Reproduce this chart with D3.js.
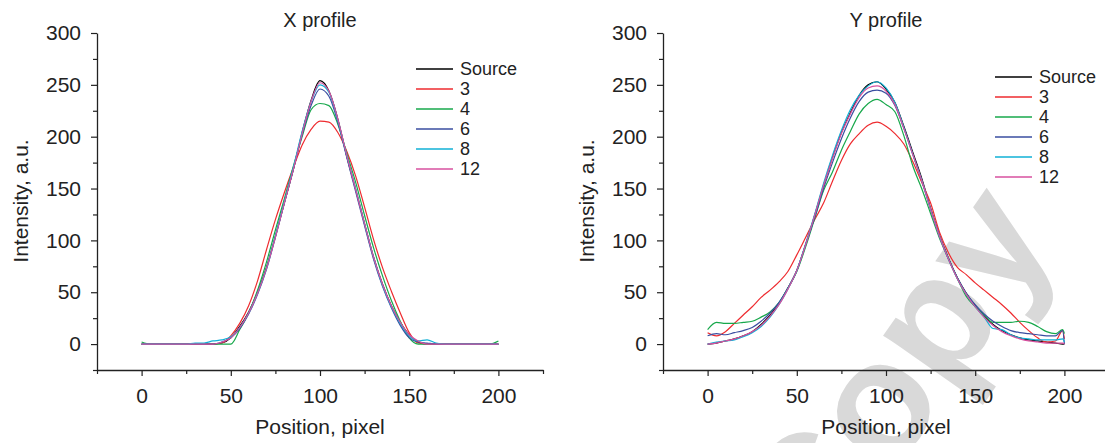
<!DOCTYPE html>
<html>
<head>
<meta charset="utf-8">
<script src="https://cdn.jsdelivr.net/npm/d3@7"></script>
<style>
  body { margin: 0; background: #fff; }
  svg { display: block; font-family: "Liberation Sans", Arial, sans-serif; }
</style>
</head>
<body>
<svg id="chart" width="1105" height="443"></svg>
<script>
// series / legend
const seriesNames = ['Source', '3', '4', '6', '8', '12']
const seriesColors = ['#000000', '#ee2b2f', '#17a84b', '#3a4ea0', '#10b0d6', '#d7509f']

// axis ticks
const xMajorTicks = [0, 50, 100, 150, 200]
const xMinorTicks = [-25, 25, 75, 125, 175, 225]
const yMajorTicks = [0, 50, 100, 150, 200, 250, 300]
const yMinorTicks = [-25, 25, 75, 125, 175, 225, 275]

// X profile
const xProfilePos = [0, 5, 10, 15, 20, 25, 30, 35, 40, 45, 50, 55, 60, 65, 70, 75, 80, 85, 90, 95, 100,
  105, 110, 115, 120, 125, 130, 135, 140, 145, 150, 155, 160, 165, 170, 175, 180, 185, 190, 195, 200]
const xSource = [0, 0, 0, 0, 0, 0, 0, 0, 0, 1, 6, 17, 31, 50, 74, 104, 136, 168, 204, 235, 254,
  244, 217, 181, 149, 116, 84, 58, 37, 21, 9, 2, 0, 0, 0, 0, 0, 0, 0, 0, 0]
const x3 = [0, 0, 0, 0, 0, 0, 0, 0, 0, 1, 8, 20, 37, 61, 91, 120, 146, 170, 192, 207, 215,
  214, 204, 186, 162, 132, 101, 74, 51, 30, 11, 1, 0, 0, 0, 0, 0, 0, 0, 0, 0]
const x4 = [2, 0, 0, 0, 0, 0, 0, 0, 0, 0, 0, 14, 30, 52, 79, 110, 140, 171, 200, 226, 232,
  230, 212, 184, 156, 124, 93, 66, 42, 22, 6, 0, 0, 0, 0, 0, 0, 0, 0, 0, 3]
const x6 = [0, 0, 0, 0, 0, 0, 0, 0, 0, 2, 6, 15, 29, 48, 72, 103, 136, 168, 202, 230, 246,
  239, 214, 180, 147, 114, 82, 56, 35, 18, 6, 2, 1, 0, 0, 0, 0, 0, 0, 0, 0]
const x8 = [0, 0, 0, 0, 0, 0, 1, 1, 3, 4, 7, 16, 30, 49, 73, 104, 137, 170, 205, 234, 250,
  243, 216, 182, 150, 116, 84, 57, 36, 20, 8, 3, 4, 1, 0, 0, 0, 0, 0, 0, 0]
const x12 = [0, 0, 0, 0, 0, 0, 0, 0, 0, 2, 6, 16, 30, 49, 73, 103, 136, 168, 203, 234, 252,
  244, 217, 182, 149, 116, 84, 58, 37, 21, 9, 3, 0, 0, 0, 0, 0, 0, 0, 0, 0]

// Y profile
const yProfilePos = [0, 5, 10, 15, 20, 25, 30, 35, 40, 45, 50, 55, 60, 65, 70, 75, 80, 85, 90, 95, 100,
  105, 110, 115, 120, 125, 130, 135, 140, 145, 150, 155, 160, 165, 170, 175, 180, 185, 190, 195, 199, 200]
const ySource = [0, 1, 3, 5, 8, 12, 19, 28, 39, 54, 71, 96, 124, 153, 180, 204, 223, 240, 250, 253, 246,
  233, 210, 185, 160, 131, 105, 83, 64, 49, 37, 27, 19, 13, 9, 6, 4, 3, 2, 1, 0, 0]
const y3 = [11, 8, 12, 20, 28, 36, 45, 52, 60, 70, 86, 103, 120, 136, 157, 177, 193, 203, 211, 214, 210,
  203, 193, 176, 156, 136, 108, 88, 74, 67, 59, 52, 45, 38, 30, 21, 13, 6, 2, 3, 13, 5]
const y4 = [14, 21, 20, 20, 21, 22, 26, 31, 40, 54, 70, 94, 121, 148, 166, 187, 205, 222, 232, 236, 231,
  224, 201, 172, 150, 126, 102, 82, 63, 46, 36, 28, 21, 21, 21, 22, 21, 17, 12, 10, 14, 10]
const y6 = [8, 10, 9, 11, 13, 16, 22, 30, 40, 54, 71, 96, 122, 150, 175, 198, 218, 234, 243, 245, 242,
  230, 208, 183, 158, 130, 104, 82, 64, 49, 38, 29, 22, 17, 13, 11, 10, 9, 8, 8, 13, 0]
const y8 = [0, 2, 3, 4, 7, 11, 17, 26, 38, 53, 71, 97, 125, 155, 182, 206, 226, 240, 249, 253, 247,
  233, 209, 183, 158, 130, 104, 82, 63, 48, 36, 26, 15, 14, 9, 6, 5, 4, 4, 4, 5, 2]
const y12 = [0, 1, 3, 5, 8, 12, 18, 27, 38, 53, 71, 96, 124, 153, 179, 203, 222, 238, 247, 249, 244,
  231, 208, 183, 158, 130, 104, 82, 63, 48, 36, 26, 18, 12, 8, 5, 3, 2, 1, 1, 1, 0]

const svg = d3.select('#chart')

// watermark behind everything
svg.append('text')
  .attr('transform', 'translate(822,575) rotate(-55)')
  .attr('font-size', 165)
  .attr('font-weight', 'bold')
  .attr('fill', '#d9d9d9')
  .text('Copy')

function drawPanel (opts) {
  const x = d3.scaleLinear().domain([-25, 225]).range([opts.left, opts.left + 446])
  const y = d3.scaleLinear().domain([-25, 300]).range([370, 33])
  const g = svg.append('g')

  // x axis
  g.append('g')
    .attr('transform', `translate(0,${y(-25)})`)
    .call(d3.axisBottom(x).tickValues(xMajorTicks).tickSize(6).tickSizeOuter(0).tickPadding(12))
    .call(a => a.select('.domain').attr('stroke', '#222').attr('stroke-width', 1.3))
  g.append('g')
    .attr('transform', `translate(0,${y(-25)})`)
    .call(d3.axisBottom(x).tickValues(xMinorTicks).tickSize(4).tickFormat(''))
    .call(a => a.select('.domain').remove())

  // y axis
  g.append('g')
    .attr('transform', `translate(${x(-25)},0)`)
    .call(d3.axisLeft(y).tickValues(yMajorTicks).tickSize(6).tickSizeOuter(0).tickPadding(10))
    .call(a => a.select('.domain').attr('stroke', '#222').attr('stroke-width', 1.3))
  g.append('g')
    .attr('transform', `translate(${x(-25)},0)`)
    .call(d3.axisLeft(y).tickValues(yMinorTicks).tickSize(4).tickFormat(''))
    .call(a => a.select('.domain').remove())

  g.selectAll('.tick line').attr('stroke', '#222').attr('stroke-width', 1.2)
  g.selectAll('.tick text').attr('font-size', 21).attr('fill', '#222')
    .attr('font-family', '"Liberation Sans", Arial, sans-serif')

  // titles
  g.append('text')
    .attr('x', opts.left + 223).attr('y', opts.titleY)
    .attr('text-anchor', 'middle').attr('font-size', 20).attr('fill', '#222')
    .text(opts.title)
  g.append('text')
    .attr('x', opts.left + 223).attr('y', 434)
    .attr('text-anchor', 'middle').attr('font-size', 21).attr('fill', '#222')
    .text('Position, pixel')
  g.append('text')
    .attr('transform', `translate(${opts.left - 69},201) rotate(-90)`)
    .attr('text-anchor', 'middle').attr('font-size', 21).attr('fill', '#222')
    .text('Intensity, a.u.')

  // lines
  const line = d3.line()
    .x((d, i) => x(opts.pos[i]))
    .y(d => y(d))
    .curve(d3.curveMonotoneX)
  opts.series.forEach((s, i) => {
    g.append('path')
      .datum(s)
      .attr('fill', 'none')
      .attr('stroke', seriesColors[i])
      .attr('stroke-width', 1.2)
      .attr('d', line)
  })

  // legend
  const lg = g.append('g').attr('transform', `translate(${opts.legendX},${opts.legendY})`)
  seriesNames.forEach((name, i) => {
    lg.append('line')
      .attr('x1', 0).attr('x2', 37)
      .attr('y1', i * 20).attr('y2', i * 20)
      .attr('stroke', seriesColors[i]).attr('stroke-width', 1.3)
    lg.append('text')
      .attr('x', 44).attr('y', i * 20)
      .attr('dy', '0.35em')
      .attr('font-size', 18).attr('fill', '#222')
      .text(name)
  })
}

drawPanel({
  left: 97, title: 'X profile', titleY: 27,
  pos: xProfilePos, series: [xSource, x3, x4, x6, x8, x12],
  legendX: 416, legendY: 69
})
drawPanel({
  left: 663, title: 'Y profile', titleY: 27,
  pos: yProfilePos, series: [ySource, y3, y4, y6, y8, y12],
  legendX: 995, legendY: 77
})
</script>
</body>
</html>
